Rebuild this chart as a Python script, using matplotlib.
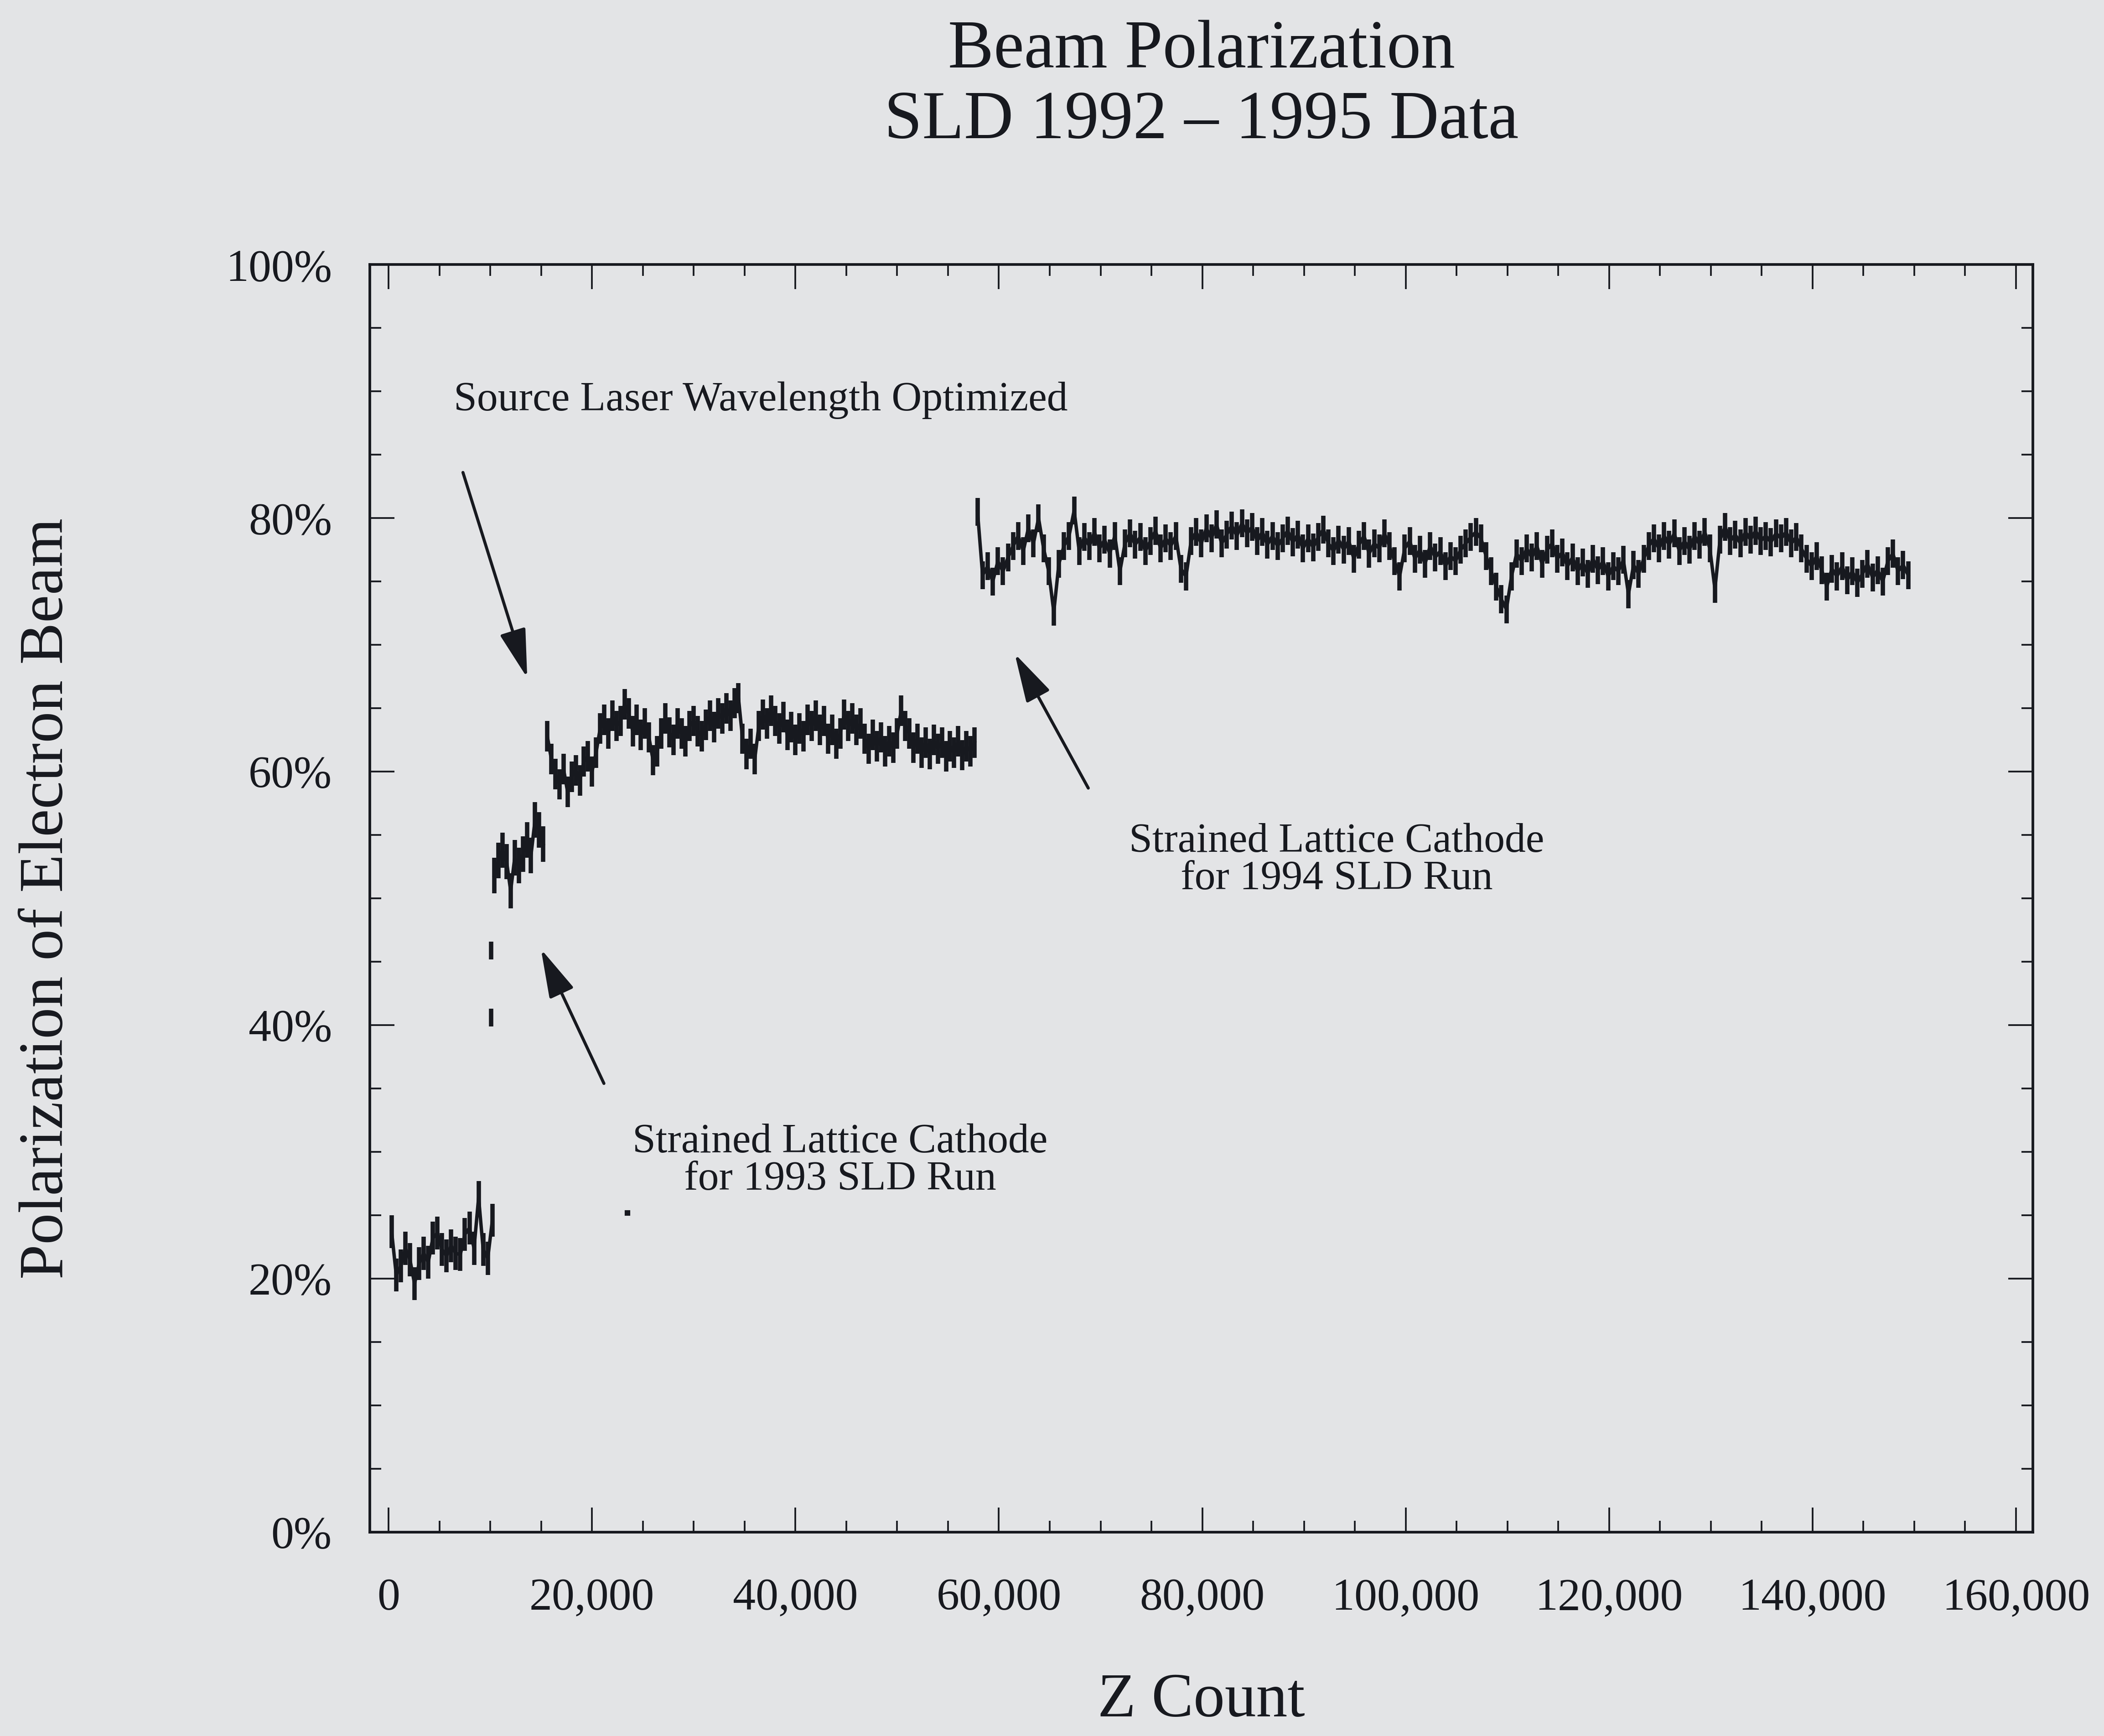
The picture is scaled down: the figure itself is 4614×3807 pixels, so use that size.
import numpy as np
import matplotlib
matplotlib.use('Agg')
import matplotlib.pyplot as plt
from matplotlib.ticker import MultipleLocator, FuncFormatter

# polarization readings (%)
# 1992 run
z92_start, z92_step = 300, 450
pol92 = [23.7, 20.3, 21.0, 22.4, 21.5, 19.6, 21.2, 22.0, 21.3, 23.2, 23.6,
         22.3, 21.8, 22.6, 22.0, 21.9, 23.5, 24.0, 22.4, 26.4, 22.3, 21.6, 24.6]

# isolated points between the runs
z_gap = [10100, 10100]
pol_gap = [40.6, 45.9]

# 1993 run, before the laser wavelength change
z93a_start, z93a_step = 10400, 400
pol93a = [51.8, 53.0, 53.8, 52.9, 50.6, 53.2, 52.6, 53.5, 54.6, 53.4, 56.2,
          55.4, 54.3]

# 1993 run, after the laser wavelength change
z93b_start, z93b_step = 15600, 400
pol93b = [62.8, 61.0, 59.8, 59.0, 60.2, 58.4, 59.6, 60.1, 59.3, 60.8, 61.2,
          60.0, 61.5, 63.4, 64.1, 63.0, 64.4, 63.6, 64.0, 65.3, 64.6, 63.2,
          64.1, 62.9, 63.8, 62.7, 60.9, 61.6, 63.0, 64.2, 63.1, 62.5, 63.8,
          63.0, 62.4, 63.6, 64.0, 63.2, 62.8, 63.7, 64.4, 63.5, 64.6, 64.2,
          65.0, 64.4, 65.4, 65.8, 62.6, 61.4, 62.2, 61.0, 63.6, 64.5, 63.8,
          64.8, 64.0, 63.4, 64.3, 62.9, 63.5, 62.5, 63.4, 62.8, 64.1, 63.6,
          64.4, 63.3, 64.0, 62.6, 63.3, 62.2, 63.0, 64.5, 63.6, 64.2, 63.3,
          63.8, 62.6, 61.8, 62.9, 62.0, 62.7, 61.6, 62.4, 61.9, 63.0, 64.8,
          63.6, 63.0, 61.9, 62.6, 61.5, 62.3, 61.4, 62.5, 61.8, 62.3, 61.2,
          62.0, 61.5, 62.4, 61.3, 62.0, 61.6, 62.3]

# 1994-95 run
z94_start, z94_step = 57900, 500
pol94 = [80.5, 75.5, 76.2, 75.0, 76.6, 75.8, 76.9, 77.8, 78.6, 77.4, 79.2,
         78.0, 80.0, 77.6, 75.8, 72.6, 76.4, 77.8, 78.6, 80.6, 77.4, 78.5,
         77.8, 78.9, 77.6, 78.3, 77.2, 78.6, 75.8, 78.0, 78.8, 77.9, 78.5,
         77.4, 78.2, 79.0, 77.6, 78.4, 77.8, 78.6, 76.0, 75.4, 78.2, 78.9,
         78.0, 79.2, 78.4, 79.5, 78.0, 78.7, 79.4, 78.6, 79.6, 78.8, 79.3,
         78.2, 78.9, 77.9, 78.6, 77.8, 78.4, 79.0, 78.1, 78.7, 77.6, 78.4,
         77.7, 78.5, 79.1, 78.0, 77.4, 78.3, 77.5, 78.2, 76.8, 77.9, 78.6,
         77.2, 78.0, 77.6, 78.8, 77.8, 76.6, 75.4, 77.6, 78.2, 76.8, 77.5,
         76.4, 77.8, 76.9, 77.4, 76.2, 77.0, 76.6, 77.5, 78.0, 78.5, 78.9,
         78.4, 77.0, 75.8, 74.6, 73.6, 72.8, 75.4, 77.2, 76.6, 77.6, 76.9,
         77.8, 76.4, 77.5, 78.0, 76.8, 77.3, 76.2, 76.9, 75.8, 76.5, 75.6,
         76.8, 75.9, 76.6, 75.4, 76.2, 75.8, 76.7, 74.0, 76.3, 75.6, 76.8,
         77.8, 78.4, 77.6, 78.6, 77.9, 78.8, 77.4, 78.2, 77.5, 78.6, 77.9,
         78.9, 77.6, 74.4, 78.3, 79.3, 78.2, 78.7, 78.0, 78.9, 78.3, 79.0,
         78.2, 78.6, 78.1, 78.8, 78.4, 78.9, 78.0, 78.5, 77.6, 76.8, 76.2,
         77.0, 75.9, 74.6, 76.0, 75.4, 76.2, 75.1, 75.8, 74.9, 75.6, 76.4,
         75.3, 75.9, 75.0, 76.6, 77.2, 75.8, 76.3, 75.5]

# stray point in the 1993 region
z_stray = [23500]
pol_stray = [25.2]

# error bar half-heights (%), one per run
err92, err93a, err93b, err94 = 1.3, 1.4, 1.2, 1.1

x_ticks = [0, 20000, 40000, 60000, 80000, 100000, 120000, 140000, 160000]
y_ticks = [0, 20, 40, 60, 80, 100]

paper = '#e3e4e6'
ink = '#17191f'
serif = ['Liberation Serif', 'DejaVu Serif']

plt.rcParams['font.family'] = serif

fig = plt.figure(figsize=(15.38, 12.69), dpi=300, facecolor=paper)
ax = fig.add_axes([0.1758, 0.1174, 0.7904, 0.7302], facecolor=paper)

segments = [
    (z92_start, z92_step, pol92, err92),
    (z93a_start, z93a_step, pol93a, err93a),
    (z93b_start, z93b_step, pol93b, err93b),
    (z94_start, z94_step, pol94, err94),
]
for start, step, vals, err in segments:
    z = start + step * np.arange(len(vals))
    ax.plot(z, vals, color=ink, lw=1.8, solid_joinstyle='miter')
    ax.errorbar(z, vals, yerr=err, fmt='none', ecolor=ink, elinewidth=2.3)

ax.errorbar(z_gap, pol_gap, yerr=0.7, fmt='none', ecolor=ink, elinewidth=2.3)
ax.plot(z_stray, pol_stray, 's', color=ink, ms=1.8)

ax.set_xlim(-1840, 161660)
ax.set_ylim(0, 100)
ax.set_xticks(x_ticks)
ax.set_yticks(y_ticks)
ax.xaxis.set_minor_locator(MultipleLocator(5000))
ax.yaxis.set_minor_locator(MultipleLocator(5))
ax.xaxis.set_major_formatter(FuncFormatter(lambda v, p: f'{int(v):,}'))
ax.yaxis.set_major_formatter(FuncFormatter(lambda v, p: f'{int(v)}%'))

ax.tick_params(which='both', direction='in', top=True, right=True,
               color=ink, labelcolor=ink, labelsize=24)
ax.tick_params(which='major', length=13, width=0.9)
ax.tick_params(which='minor', length=6, width=0.9)
ax.tick_params(axis='y', pad=20)
ax.tick_params(axis='x', pad=24)
for s in ax.spines.values():
    s.set_color(ink)
    s.set_linewidth(1.4)

ax.set_xlabel('Z Count', fontsize=33, color=ink)
ax.xaxis.set_label_coords(0.5, -0.1334)
ax.xaxis.label.set_va('center')
ax.set_ylabel('Polarization of Electron Beam', fontsize=33, color=ink)
ax.yaxis.set_label_coords(-0.194, 0.5)
ax.yaxis.label.set_va('center')

fig.text(0.571, 0.9706, 'Beam Polarization', fontsize=36, color=ink,
         ha='center', va='center')
fig.text(0.571, 0.930, 'SLD 1992 \u2013 1995 Data', fontsize=36, color=ink,
         ha='center', va='center')

arrow = dict(arrowstyle='-|>,head_length=1.1,head_width=0.3', color=ink,
             lw=1.6, shrinkA=0, shrinkB=0, mutation_scale=20)

ax.text(6400, 89.3, 'Source Laser Wavelength Optimized', fontsize=22,
        color=ink, ha='left', va='center')
ax.annotate('', xy=(13630, 67.4), xytext=(7310, 83.6), arrowprops=arrow)

ax.annotate('', xy=(14980, 46.0), xytext=(21170, 35.4), arrowprops=arrow)
ax.text(44400, 29.3, 'Strained Lattice Cathode\nfor 1993 SLD Run',
        fontsize=22, color=ink, ha='center', va='center',
        multialignment='center', linespacing=1.0)

ax.annotate('', xy=(61560, 69.3), xytext=(68790, 58.7), arrowprops=arrow)
ax.text(93220, 53.0, 'Strained Lattice Cathode\nfor 1994 SLD Run',
        fontsize=22, color=ink, ha='center', va='center',
        multialignment='center', linespacing=1.0)

fig.savefig('out.png', dpi=300, facecolor=paper)
